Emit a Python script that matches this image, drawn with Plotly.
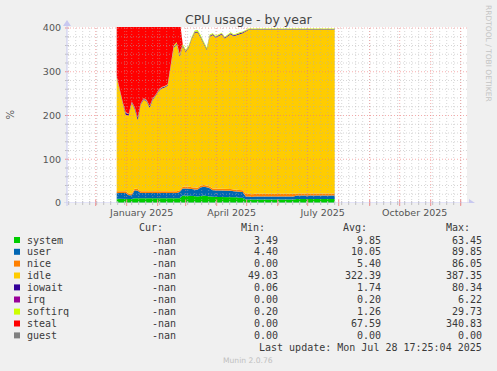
import plotly.graph_objects as go
import pandas as pd

# ---------------- data ----------------
dates = list(pd.date_range("2024-12-22", "2025-07-26", freq="3D")) + [pd.Timestamp("2025-07-28")]

system = [10, 10, 10, 10, 9, 9, 11, 11, 10, 10, 10, 10, 10, 10, 10, 10, 10, 10, 10, 10, 10,
          11,
          17, 17, 17, 16, 16, 15, 16, 17, 16, 15,
          14, 14, 14, 14, 13, 13, 13, 13, 13, 12, 12,
          8, 8, 7, 8, 8, 8, 7, 8, 8, 8, 8, 7, 8, 8, 8, 8, 8,
          9, 9, 9, 9, 8, 9, 9, 9, 9, 9, 8, 9, 9, 9]
user = [13, 13, 13, 13, 9, 9, 18, 17, 13, 13, 13, 13, 13, 14, 13, 13, 13, 13, 13, 13, 13,
        14,
        16, 16, 16, 16, 15, 16, 20, 20, 20, 19,
        15, 15, 15, 15, 15, 15, 15, 14, 14, 14, 13,
        7, 7, 7, 7, 7, 7, 7, 7, 7, 7, 7, 7, 7, 7, 7, 7, 7,
        8, 8, 8, 8, 8, 8, 8, 8, 8, 8, 8, 8, 8, 8]
nice = [4, 4, 4, 4, 4, 4, 4, 4, 4, 4, 4, 4, 4, 4, 4, 4, 4, 4, 4, 4, 4,
        4,
        4, 4, 5, 4, 4, 4, 4, 4, 4, 4,
        4, 4, 4, 4, 4, 4, 4, 4, 4, 4, 4,
        6, 6, 6, 6, 6, 6, 6, 6, 6, 6, 6, 6, 6, 6, 6, 6, 6,
        5, 5, 5, 5, 5, 5, 5, 5, 5, 5, 5, 5, 5, 5]
idle = [260, 228, 201, 175, 178, 207, 182, 158, 198, 209, 205, 191, 209, 217, 229, 235, 237, 241, 283, 328, 335,
        306,
        321, 308, 317, 339, 354, 355, 338, 321, 310, 342,
        351, 345, 349, 352, 344, 350, 354, 350, 353, 356, 359,
        372, 375, 376, 375, 375, 375, 376, 375, 375, 375, 375, 376, 375, 375, 375, 375, 375,
        374, 374, 374, 374, 375, 374, 374, 374, 374, 374, 375, 374, 374, 374]
iowait = [2, 2, 2, 4, 3, 2, 3, 5, 2, 2, 2, 3, 2, 2, 2, 2, 2, 2, 2, 2, 2,
          3,
          2, 2, 2, 2, 2, 2, 2, 3, 2, 2,
          2, 2, 2, 2, 2, 2, 2, 2, 2, 2, 2,
          1.2, 1.2, 1.2, 1.2, 1.2, 1.2, 1.2, 1.2, 1.2, 1.2, 1.2, 1.2, 1.2, 1.2, 1.2, 1.2, 1.2,
          1.2, 1.2, 1.2, 1.2, 1.2, 1.2, 1.2, 1.2, 1.2, 1.2, 1.2, 1.2, 1.2, 1.2]
irq = [0.2] * 74
softirq = [1, 1, 1, 1, 1, 1, 1, 1, 1, 1, 1, 1, 1, 1, 1, 1, 1, 1, 3, 3, 3,
           3,
           3, 3, 3, 3, 3, 3, 3, 3, 3, 3,
           2, 2, 2, 2, 2, 2, 2, 2, 2, 2, 2,
           1.2, 1.2, 1.2, 1.2, 1.2, 1.2, 1.2, 1.2, 1.2, 1.2, 1.2, 1.2, 1.2, 1.2, 1.2, 1.2, 1.2,
           1.2, 1.2, 1.2, 1.2, 1.2, 1.2, 1.2, 1.2, 1.2, 1.2, 1.2, 1.2, 1.2, 1.2]
steal = [130, 162, 189, 213, 216, 187, 201, 224, 192, 181, 185, 198, 181, 172, 161, 155, 153, 149, 105, 60, 53,
         79] + [0] * 52
guest = [0] * 74

names = ["system", "user", "nice", "idle", "iowait", "irq", "softirq", "steal", "guest"]
colors = ["#00CC00", "#0066B3", "#FF8000", "#FFCC00", "#330099", "#990099", "#CCFF00", "#FF0000", "#808080"]
cur_vals = ["-nan"] * 9
min_vals = ["3.49", "4.40", "0.00", "49.03", "0.06", "0.00", "0.20", "0.00", "0.00"]
avg_vals = ["9.85", "10.05", "5.40", "322.39", "1.74", "0.20", "1.26", "67.59", "0.00"]
max_vals = ["63.45", "89.85", "86.05", "387.35", "80.34", "6.22", "29.73", "340.83", "0.00"]

x_labels = ["January 2025", "April 2025", "July 2025", "October 2025"]
x_label_pos = ["2025-01-16", "2025-04-16", "2025-07-16", "2025-10-16"]
y_ticks = [0, 100, 200, 300, 400]

title = "CPU usage - by year"
last_update = "Last update: Mon Jul 28 17:25:04 2025"
footer = "Munin 2.0.76"
side_text = "RRDTOOL / TOBI OETIKER"

# ---------------- geometry ----------------
L, T, W, H = 67, 27, 400, 176
FIG_W, FIG_H = 497, 371
x_start = pd.Timestamp("2025-01-01") - pd.Timedelta(days=59.7)
x_end = pd.Timestamp("2025-01-01") + pd.Timedelta(days=340.3)
y_top = 176 / 0.4375


def px(x):
    return (x - L) / W


def py(y):
    return (T + H - y) / H


series = [system, user, nice, idle, iowait, irq, softirq, steal, guest]

fig = go.Figure()
for nm, col, vals in zip(names, colors, series):
    fig.add_trace(go.Scatter(
        x=dates, y=vals, name=nm, mode="lines", stackgroup="cpu",
        line=dict(width=0, color=col), fillcolor=col, hoverinfo="skip"))

shapes = []
GRAY = "rgba(175,175,175,0.5)"
RED = "rgba(240,120,120,0.6)"
DASH = "1px,2px"

# weekly minor verticals
for d in pd.date_range("2024-11-04", "2025-12-07", freq="7D"):
    if x_start < d < x_end:
        shapes.append(dict(type="line", xref="x", yref="paper", x0=d, x1=d, y0=0, y1=1,
                           line=dict(color=GRAY, width=1, dash=DASH), layer="above"))
        shapes.append(dict(type="line", xref="x", yref="paper", ysizemode="pixel", yanchor=0,
                           x0=d, x1=d, y0=-2, y1=2, line=dict(color="#C0C0C0", width=1), layer="above"))
# monthly major verticals
for d in pd.date_range("2024-11-01", "2025-12-01", freq="MS"):
    if x_start < d < x_end:
        shapes.append(dict(type="line", xref="x", yref="paper", x0=d, x1=d, y0=0, y1=1,
                           line=dict(color=RED, width=1, dash=DASH), layer="above"))
        shapes.append(dict(type="line", xref="x", yref="paper", ysizemode="pixel", yanchor=0,
                           x0=d, x1=d, y0=-3, y1=3, line=dict(color="#F09090", width=1), layer="above"))
# horizontal grid
for v in range(20, 401, 20):
    c = RED if v % 100 == 0 else GRAY
    shapes.append(dict(type="line", xref="paper", yref="y", x0=0, x1=1, y0=v, y1=v,
                       line=dict(color=c, width=1, dash=DASH), layer="above"))
    shapes.append(dict(type="line", xref="paper", yref="y", xsizemode="pixel", xanchor=0,
                       x0=-2, x1=2, y0=v, y1=v,
                       line=dict(color="#F09090" if v % 100 == 0 else "#C0C0C0", width=1), layer="above"))

AX = "#C8C8F0"
# x axis line + arrow
shapes.append(dict(type="line", xref="paper", yref="y", xsizemode="pixel", xanchor=0,
                   x0=-3, x1=W + 4, y0=0, y1=0, line=dict(color=AX, width=1), layer="above"))
shapes.append(dict(type="path", xref="paper", yref="y", xsizemode="pixel", ysizemode="pixel",
                   xanchor=0, yanchor=0, path=f"M {W+2},-4 L {W+8},0 L {W+2},4 Z",
                   fillcolor=AX, line=dict(color=AX, width=0), layer="above"))
# y axis line + arrow
shapes.append(dict(type="line", xref="paper", yref="paper", ysizemode="pixel", yanchor=0,
                   x0=0, x1=0, y0=-3, y1=H + 4, line=dict(color=AX, width=1), layer="above"))
shapes.append(dict(type="path", xref="paper", yref="paper", xsizemode="pixel", ysizemode="pixel",
                   xanchor=0, yanchor=0, path=f"M -4,{H+1} L 0,{H+7} L 4,{H+1} Z",
                   fillcolor=AX, line=dict(color=AX, width=0), layer="above"))

# legend squares
row_y = [240, 251.8, 263.6, 275.5, 287.4, 299.5, 311.6, 323.5, 335.4]
for i, col in enumerate(colors):
    shapes.append(dict(type="rect", xref="paper", yref="paper",
                       x0=px(14), x1=px(20), y0=py(row_y[i] + 3), y1=py(row_y[i] - 3),
                       fillcolor=col, line=dict(width=0)))

ann = []
MONO = "DejaVu Sans Mono"
TXT = "#3a3a3a"


def text(x, y, s, anchor="left", size=10, family=MONO, color=TXT, angle=0):
    ann.append(dict(x=px(x), y=py(y), xref="paper", yref="paper", text=s, showarrow=False,
                    xanchor=anchor, yanchor="middle", textangle=angle,
                    font=dict(family=family, size=size, color=color), borderpad=0))


text(248.5, 19, title, anchor="center", size=12.5, family="DejaVu Sans", color="#444")
text(10, 114.5, "%", anchor="center", size=10, family="DejaVu Sans", color="#555", angle=-90)
text(488.5, 53.5, side_text, anchor="center", size=7.5, family="DejaVu Sans", color="#C4C4C4", angle=90)

hy = 227.7
text(164, hy, "Cur:", anchor="right")
text(266, hy, "Min:", anchor="right")
text(368, hy, "Avg:", anchor="right")
text(471, hy, "Max:", anchor="right")
for i in range(9):
    y = row_y[i]
    text(26, y, names[i])
    text(177, y, cur_vals[i], anchor="right")
    text(279, y, min_vals[i], anchor="right")
    text(382, y, avg_vals[i], anchor="right")
    text(483, y, max_vals[i], anchor="right")
text(483, 347.7, last_update, anchor="right")
text(248, 360.5, footer, anchor="center", size=7.6, family="DejaVu Sans", color="#C0C0C0")

fig.update_layout(
    width=FIG_W, height=FIG_H,
    margin=dict(l=L, r=FIG_W - L - W, t=T, b=FIG_H - T - H, pad=0),
    paper_bgcolor="#F0F0F0", plot_bgcolor="#FFFFFF",
    showlegend=False,
    shapes=shapes, annotations=ann,
    xaxis=dict(range=[x_start, x_end], tickvals=x_label_pos, ticktext=x_labels,
               showgrid=False, zeroline=False, showline=False, ticks="",
               tickfont=dict(family="DejaVu Sans", size=9.5, color="#555"),
               ticklabelstandoff=2, fixedrange=True),
    yaxis=dict(range=[0, y_top], tickvals=y_ticks, ticktext=[str(v) for v in y_ticks],
               showgrid=False, zeroline=False, showline=False, ticks="",
               tickfont=dict(family="DejaVu Sans", size=9.5, color="#555"),
               ticklabelstandoff=5, fixedrange=True),
)

fig.write_html("out.html", config={"displayModeBar": False})
